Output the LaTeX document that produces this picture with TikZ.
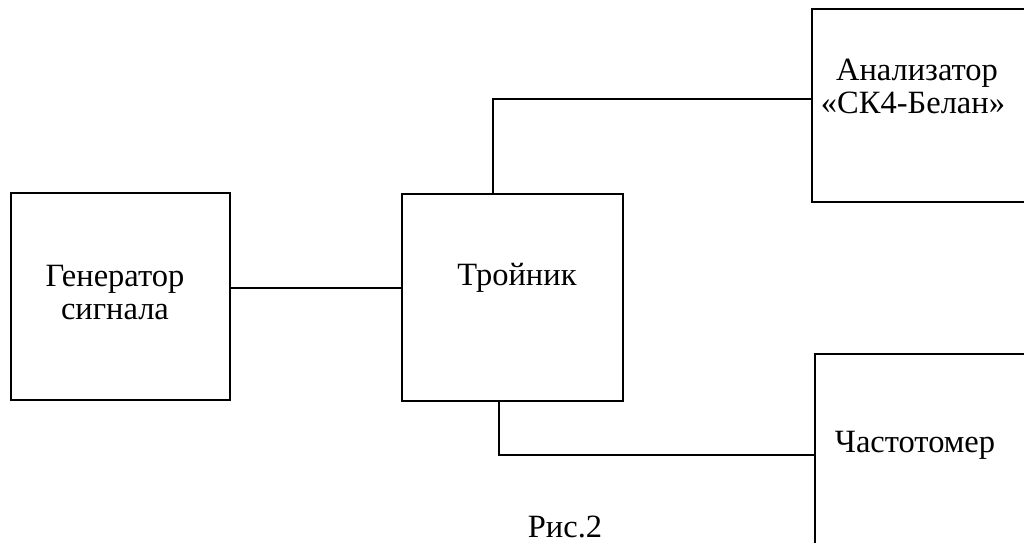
\documentclass[tikz,border=0pt]{standalone}
\usepackage{fontspec}
\setmainfont{Liberation Serif}
\begin{document}
\begin{tikzpicture}[x=1pt,y=-1pt,
  blk/.style={draw=black,line width=1.6pt,rectangle,inner sep=0pt},
  wire/.style={draw=black,line width=1.4pt},
  lbl/.style={font=\fontsize{32.5}{34}\selectfont,anchor=base,inner sep=0pt}]
\useasboundingbox (0,0) rectangle (1024,542);
\clip (0,0) rectangle (1024,542);
% boxes
\node[blk,minimum width=219pt,minimum height=207pt] (gen) at (120.5,296.5) {};
\node[blk,minimum width=221pt,minimum height=207pt] (tee) at (512.5,297.5) {};
\node[blk,minimum width=230pt,minimum height=193pt] (ana) at (927,105.5) {};
\node[blk,minimum width=230pt,minimum height=210pt] (frq) at (930,459) {};
% labels
\node[lbl] (g1) at (115,286) {Генератор};
\node[lbl] (g2) at (115,319) {сигнала};
\node[lbl] (t1) at (517,285) {Тройник};
\node[lbl] (a1) at (917,80) {Анализатор};
\node[lbl] (a2) at (913,113) {«СК4-Белан»};
\node[lbl] (f1) at (915,452) {Частотомер};
\node[lbl] (cap) at (565,537) {Рис.2};
% connectors
\draw[wire] (gen.east |- 0,288) -- (tee.west |- 0,288);
\draw[wire] (tee.north -| 493,0) |- (ana.west |- 0,99);
\draw[wire] (tee.south -| 499,0) |- (frq.west |- 0,455);
\end{tikzpicture}
\end{document}
